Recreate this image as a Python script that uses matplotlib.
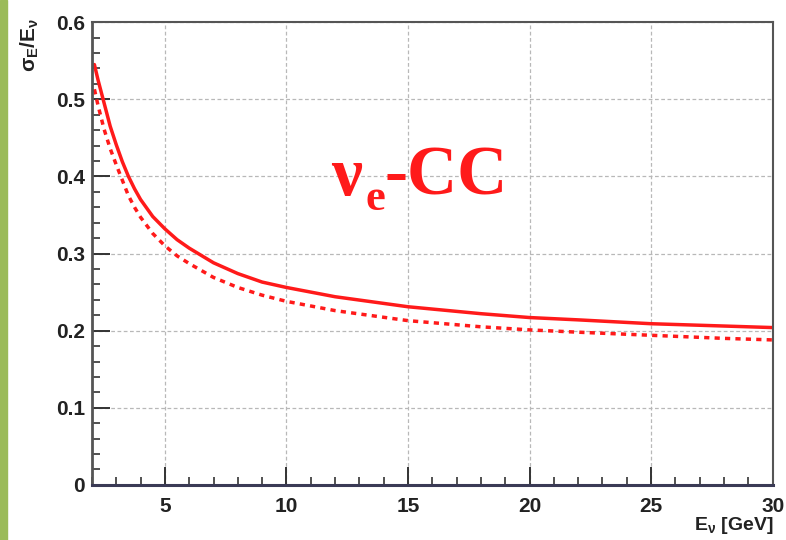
import matplotlib
matplotlib.use("Agg")
import matplotlib.pyplot as plt
from matplotlib.patches import Rectangle
from matplotlib.ticker import MultipleLocator

# Luetut arvot kuvasta
energia = [2.1, 2.25, 2.5, 2.75, 3, 3.25, 3.5, 3.75, 4, 4.5, 5, 5.5, 6, 7, 8, 9,
           10, 12, 15, 18, 20, 22, 25, 28, 30]
resoluutio = [0.545, 0.525, 0.495, 0.465, 0.441, 0.419, 0.400, 0.384, 0.370, 0.348,
              0.332, 0.318, 0.307, 0.288, 0.274, 0.263,
              0.256, 0.244, 0.231, 0.222, 0.217, 0.214, 0.209, 0.206, 0.204]
resoluutio_katko = [0.513, 0.492, 0.461, 0.436, 0.415, 0.395, 0.375, 0.360, 0.347, 0.326,
                    0.310, 0.297, 0.287, 0.269, 0.256, 0.246,
                    0.238, 0.226, 0.213, 0.205, 0.201, 0.198, 0.194, 0.19, 0.188]

punainen = '#ff1a1a'

plt.rcParams['font.family'] = ['Liberation Sans', 'DejaVu Sans']
plt.rcParams['mathtext.fontset'] = 'custom'
plt.rcParams['mathtext.rm'] = 'Liberation Sans:bold'
plt.rcParams['mathtext.it'] = 'Liberation Sans:bold'

fig = plt.figure(figsize=(7.86, 5.4), dpi=100)
ax = fig.add_axes([0.117, 0.102, 0.866, 0.857])

# vihreä palkki vasemmassa reunassa
fig.patches.append(Rectangle((0, 0), 7 / 786, 1, transform=fig.transFigure,
                             color='#9bbb59', zorder=0))

ax.plot(energia, resoluutio, color=punainen, linewidth=2.5, solid_capstyle='round',
        solid_joinstyle='round')
ax.plot(energia, resoluutio_katko, color=punainen, linewidth=2.5, dashes=(1.5, 1.5))

ax.set_xlim(2, 30)
ax.set_ylim(0, 0.6)
ax.xaxis.set_major_locator(MultipleLocator(5))
ax.xaxis.set_minor_locator(MultipleLocator(1))
ax.yaxis.set_major_locator(MultipleLocator(0.1))
ax.yaxis.set_minor_locator(MultipleLocator(0.02))
ax.set_yticks([0, 0.1, 0.2, 0.3, 0.4, 0.5, 0.6])
ax.set_yticklabels(['0', '0.1', '0.2', '0.3', '0.4', '0.5', '0.6'])

ax.grid(True, which='major', color='#b8b8b8', linestyle=(0, (3, 2)), linewidth=0.9)
ax.tick_params(which='both', direction='in', top=False, right=False, colors='#333333')
ax.tick_params(which='major', length=13, width=1.4, labelsize=15)
ax.tick_params(axis='x', which='major', pad=9)
ax.tick_params(axis='y', which='major', pad=5)
ax.tick_params(which='minor', length=6, width=1.2)
for lab in ax.get_xticklabels() + ax.get_yticklabels():
    lab.set_fontweight('bold')
    lab.set_color('#222222')

for side in ['top', 'right']:
    ax.spines[side].set_color('#555555')
    ax.spines[side].set_linewidth(1.5)
ax.spines['left'].set_color('#555555')
ax.spines['left'].set_linewidth(2.0)
ax.spines['bottom'].set_color('#3a3a55')
ax.spines['bottom'].set_linewidth(2.2)

# akselien otsikot
fig.text(30 / 786, 1 - 18 / 540, r'$\sigma_E/E_\nu$', rotation=90, ha='center', va='top',
         fontsize=15, color='#222222')
fig.text(773 / 786, 1 - 526 / 540, r'$E_\nu$ [GeV]', ha='right', va='center',
         fontsize=14, fontweight='bold', color='#222222')

# punainen teksti
ax.text(11.85, 0.376, 'ν', fontsize=50, fontweight='bold', family='Liberation Serif',
        color=punainen, ha='left', va='baseline')
ax.text(13.25, 0.356, 'e', fontsize=32, fontweight='bold', family='Liberation Serif',
        color=punainen, ha='left', va='baseline')
ax.text(14.05, 0.376, '-CC', fontsize=50, fontweight='bold', family='Liberation Serif',
        color=punainen, ha='left', va='baseline')

fig.savefig('out.png', dpi=100)
